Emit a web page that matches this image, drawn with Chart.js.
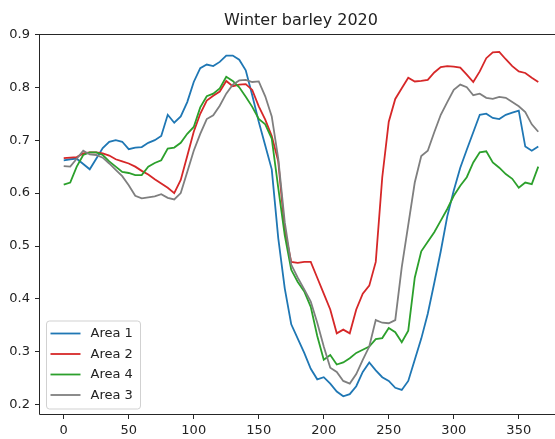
<!DOCTYPE html>
<html>
<head>
<meta charset="utf-8">
<script src="https://cdn.jsdelivr.net/npm/chart.js@4/dist/chart.umd.min.js"></script>
<style>
html, body { margin: 0; padding: 0; overflow: hidden; background: #fff; width: 555px; height: 439px; }
#wrap { position: absolute; left: 0; top: 0; width: 575px; height: 439px; }
</style>
</head>
<body>
<div id="wrap"><canvas id="c" width="575" height="439"></canvas></div>
<script>
const chartTitle = "Winter barley 2020";
const days = [0,5,10,15,20,25,30,35,40,45,50,55,60,65,70,75,80,85,90,95,100,105,110,115,120,125,130,135,140,145,150,155,160,165,170,175,180,185,190,195,200,205,210,215,220,225,230,235,240,245,250,255,260,265,270,275,280,285,290,295,300,305,310,315,320,325,330,335,340,345,350,355,360,365];
const seriesLabels = ["Area 1", "Area 2", "Area 4", "Area 3"];
const area1 = [0.662,0.664,0.665,0.655,0.645,0.665,0.685,0.697,0.700,0.697,0.683,0.686,0.687,0.695,0.700,0.708,0.748,0.733,0.745,0.772,0.810,0.836,0.843,0.840,0.848,0.860,0.860,0.852,0.832,0.785,0.735,0.690,0.645,0.515,0.420,0.352,0.325,0.298,0.268,0.248,0.252,0.240,0.225,0.216,0.220,0.235,0.262,0.280,0.265,0.252,0.245,0.232,0.228,0.245,0.285,0.325,0.372,0.430,0.490,0.556,0.605,0.648,0.682,0.715,0.748,0.750,0.742,0.740,0.748,0.752,0.756,0.688,0.680,0.688];
const area2 = [0.666,0.667,0.668,0.675,0.677,0.677,0.675,0.671,0.664,0.660,0.656,0.650,0.642,0.635,0.626,0.618,0.610,0.600,0.625,0.670,0.716,0.750,0.775,0.784,0.792,0.812,0.802,0.805,0.806,0.795,0.764,0.739,0.708,0.660,0.530,0.470,0.468,0.470,0.470,0.440,0.410,0.380,0.335,0.342,0.335,0.380,0.410,0.425,0.470,0.630,0.735,0.778,0.798,0.818,0.811,0.812,0.814,0.828,0.838,0.840,0.839,0.837,0.824,0.810,0.830,0.855,0.866,0.867,0.853,0.840,0.830,0.827,0.818,0.810];
const area4 = [0.616,0.620,0.650,0.672,0.677,0.677,0.672,0.660,0.650,0.640,0.638,0.634,0.634,0.650,0.657,0.662,0.684,0.686,0.695,0.712,0.725,0.762,0.783,0.788,0.798,0.820,0.812,0.800,0.782,0.763,0.740,0.730,0.703,0.610,0.520,0.455,0.432,0.414,0.385,0.330,0.285,0.294,0.276,0.280,0.288,0.298,0.304,0.310,0.324,0.326,0.345,0.337,0.318,0.340,0.440,0.490,0.508,0.526,0.548,0.570,0.595,0.614,0.630,0.658,0.677,0.679,0.658,0.648,0.636,0.627,0.610,0.620,0.617,0.650];
const area3 = [0.651,0.650,0.665,0.680,0.673,0.672,0.667,0.656,0.644,0.632,0.615,0.595,0.590,0.592,0.594,0.598,0.591,0.588,0.600,0.640,0.680,0.712,0.740,0.747,0.765,0.788,0.805,0.813,0.814,0.810,0.811,0.783,0.745,0.665,0.545,0.465,0.440,0.418,0.395,0.355,0.310,0.270,0.262,0.245,0.240,0.258,0.285,0.310,0.360,0.355,0.354,0.360,0.460,0.540,0.620,0.670,0.680,0.715,0.748,0.772,0.795,0.805,0.800,0.785,0.788,0.780,0.778,0.782,0.780,0.772,0.764,0.753,0.730,0.716];
const xTicks = [0,50,100,150,200,250,300,350];
const yTicks = [0.2,0.3,0.4,0.5,0.6,0.7,0.8,0.9];

const colors = ['#1f77b4', '#d62728', '#2ca02c', '#7f7f7f'];
const values = [area1, area2, area4, area3];
const drawOrder = [4, 3, 2, 1];
const FONT = "'DejaVu Sans', 'Liberation Sans', sans-serif";

const datasets = values.map((vals, i) => ({
  label: seriesLabels[i],
  data: vals.map((v, j) => ({ x: days[j], y: v })),
  borderColor: colors[i],
  backgroundColor: colors[i],
  borderWidth: 1.8,
  pointRadius: 0,
  tension: 0,
  fill: false,
  order: drawOrder[i]
}));

const framePlugin = {
  id: 'frame',
  afterDraw(chart) {
    const ctx = chart.ctx;
    const a = chart.chartArea;
    ctx.save();
    ctx.strokeStyle = '#262626';
    ctx.lineWidth = 1;
    const l = Math.round(a.left) - 0.5, t = Math.round(a.top) + 0.5, r = Math.round(a.right) + 0.5, b = Math.round(a.bottom) + 0.5;
    ctx.beginPath();
    ctx.moveTo(l, t); ctx.lineTo(r, t); ctx.lineTo(r, b); ctx.lineTo(l, b); ctx.closePath();
    ctx.stroke();

    // legend (lower left, inside axes)
    const bx = a.left + 6.5, by = a.bottom - 93, bw = 94, bh = 88, rad = 3;
    ctx.beginPath();
    ctx.moveTo(bx + rad, by);
    ctx.lineTo(bx + bw - rad, by);
    ctx.arcTo(bx + bw, by, bx + bw, by + rad, rad);
    ctx.lineTo(bx + bw, by + bh - rad);
    ctx.arcTo(bx + bw, by + bh, bx + bw - rad, by + bh, rad);
    ctx.lineTo(bx + rad, by + bh);
    ctx.arcTo(bx, by + bh, bx, by + bh - rad, rad);
    ctx.lineTo(bx, by + rad);
    ctx.arcTo(bx, by, bx + rad, by, rad);
    ctx.closePath();
    ctx.fillStyle = 'rgba(255,255,255,0.8)';
    ctx.fill();
    ctx.strokeStyle = 'rgba(204,204,204,0.9)';
    ctx.lineWidth = 1;
    ctx.stroke();

    ctx.font = '13px ' + FONT;
    ctx.textBaseline = 'middle';
    ctx.textAlign = 'left';
    chart.data.datasets.forEach((ds, i) => {
      const y = by + 12.5 + i * 20.5;
      ctx.strokeStyle = ds.borderColor;
      ctx.lineWidth = 1.8;
      ctx.beginPath();
      ctx.moveTo(bx + 4, y);
      ctx.lineTo(bx + 34, y);
      ctx.stroke();
      ctx.fillStyle = '#222';
      ctx.fillText(ds.label, bx + 44, y + 0.5);
    });
    ctx.restore();
  }
};

new Chart(document.getElementById('c'), {
  type: 'line',
  data: { datasets },
  options: {
    responsive: false,
    animation: false,
    devicePixelRatio: 1,
    layout: { padding: { left: 0, right: 13, top: 0, bottom: 0 } },
    plugins: {
      legend: { display: false },
      tooltip: { enabled: false },
      title: {
        display: true,
        text: chartTitle,
        fullSize: false,
        color: '#222',
        font: { family: FONT, size: 16, weight: 'normal', lineHeight: 1.2 },
        padding: { top: 10.8, bottom: 4 }
      }
    },
    scales: {
      x: {
        type: 'linear',
        min: -18.25,
        max: 383.25,
        afterFit(scale) { scale.height = 25; },
        afterBuildTicks(scale) { scale.ticks = xTicks.map(v => ({ value: v })); },
        grid: { drawOnChartArea: false, drawTicks: true, tickLength: 5, color: '#262626', tickWidth: 1 },
        border: { display: false },
        ticks: { color: '#222', font: { family: FONT, size: 13 }, padding: 4, maxRotation: 0, autoSkip: false,
          callback: v => String(v) }
      },
      y: {
        type: 'linear',
        min: 0.1825,
        max: 0.9007,
        afterFit(scale) { scale.width = 40; },
        afterBuildTicks(scale) { scale.ticks = yTicks.map(v => ({ value: v })); },
        grid: { drawOnChartArea: false, drawTicks: true, tickLength: 5, color: '#262626', tickWidth: 1 },
        border: { display: false },
        ticks: { color: '#222', font: { family: FONT, size: 13 }, padding: 5, autoSkip: false,
          callback: v => v.toFixed(1) }
      }
    }
  },
  plugins: [framePlugin]
});
</script>
</body>
</html>
